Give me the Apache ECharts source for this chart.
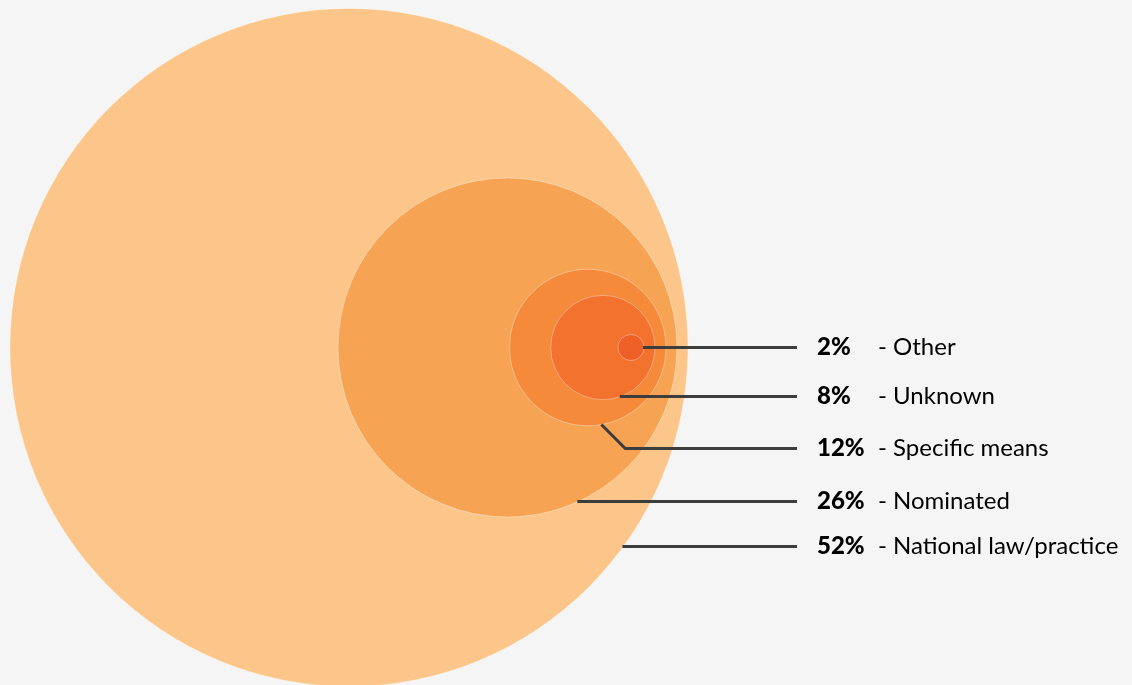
<!DOCTYPE html>
<html>
<head>
<meta charset="utf-8">
<script src="https://cdn.jsdelivr.net/npm/echarts@6/dist/echarts.min.js"></script>
<style>
  html, body { margin: 0; padding: 0; background: #f5f5f5; }
  #main { width: 1132px; height: 685px; }
</style>
</head>
<body>
<div id="main"></div>
<script>
// data, biggest circle first
var categories = ["National law/practice", "Nominated", "Specific means", "Unknown", "Other"];
var shares = [52, 26, 12, 8, 2];

var colors = ["#fcc68a", "#f7a354", "#f48a3a", "#f2722e", "#ef6027"];
// label rows, px below the common centre line
var labelDy = [199, 154, 101, 49, 0];

var PX = 6.52;          // px per percent point (radius = share)
var W = 1132, H = 685;
var RIGHT = 688 / PX;   // right edge of the big circle, in axis units
var GAP = 11 / PX;      // each smaller circle steps left by this much
var CY = 347.5 / PX;
var LINE_END = 797, TEXT_X = 817;

var chart = echarts.init(document.getElementById("main"));

var seriesData = shares.map(function (v, i) { return [v, i]; });

var option = {
  backgroundColor: "#f5f5f5",
  animation: false,
  grid: { left: 0, right: 0, top: 0, bottom: 0 },
  xAxis: { type: "value", min: 0, max: W / PX, show: false },
  yAxis: { type: "value", min: 0, max: H / PX, inverse: true, show: false },
  series: [
    {
      type: "custom",
      data: seriesData,
      renderItem: function (params, api) {
        var v = api.value(0);
        var i = api.value(1);
        var c = api.coord([RIGHT - v - i * GAP, CY]);
        var r = api.size([v, 0])[0];
        var dy = labelDy[i];
        var ly = c[1] + dy;
        var pts;
        if (dy < r) {
          var ax = c[0] + Math.sqrt(r * r - dy * dy);
          pts = [[ax - 1, ly], [LINE_END, ly]];
        } else {
          // anchor low on the circle, then a 45deg elbow down to the row
          var a = 80 * Math.PI / 180;
          var px = c[0] + r * Math.cos(a), py = c[1] + r * Math.sin(a);
          pts = [[px, py], [px + (ly - py), ly], [LINE_END, ly]];
        }
        return {
          type: "group",
          children: [
            {
              type: "circle",
              shape: { cx: c[0], cy: c[1], r: r },
              style: { fill: colors[i], stroke: "rgba(255,255,255,0.35)", lineWidth: 1 },
              z2: 1
            },
            {
              type: "polyline",
              shape: { points: pts },
              style: { stroke: "#3d3d3d", lineWidth: 3, fill: null },
              z2: 20
            },
            {
              type: "text",
              x: TEXT_X,
              y: ly,
              style: {
                text: "{p|" + v + "%}{l|- " + categories[i] + "}",
                verticalAlign: "middle",
                rich: {
                  p: { fontFamily: "Lato", fontWeight: 900, fontSize: 24, color: "#333333", width: 61 },
                  l: { fontFamily: "Lato", fontSize: 24, color: "#333333" }
                }
              },
              z2: 20
            }
          ]
        };
      }
    }
  ]
};

chart.setOption(option);
</script>
</body>
</html>
